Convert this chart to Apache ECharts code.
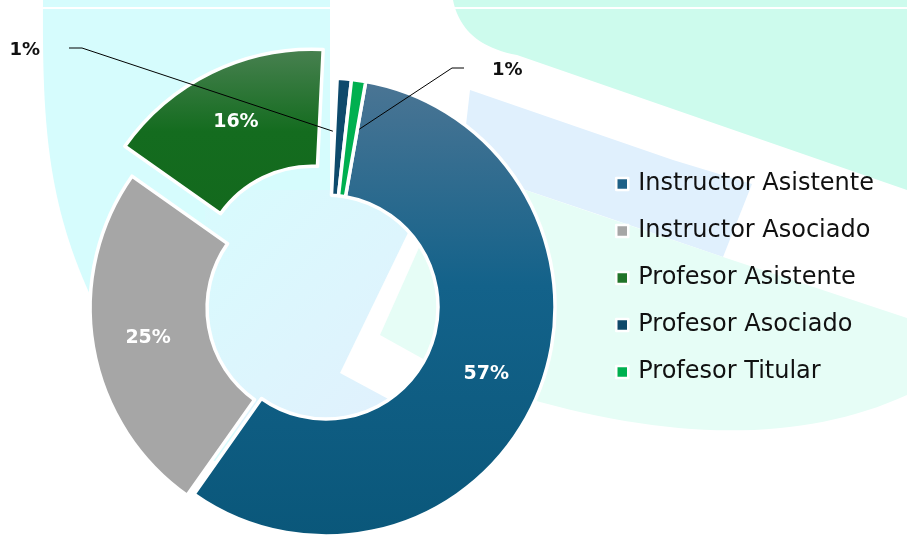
<!DOCTYPE html>
<html>
<head>
<meta charset="utf-8">
<script src="https://cdn.jsdelivr.net/npm/echarts@6/dist/echarts.min.js"></script>
<style>
  html, body { margin: 0; padding: 0; background: #fff; }
  #chart { width: 907px; height: 538px; }
</style>
</head>
<body>
<div id="chart"></div>
<script>
// data
var categories = ['Instructor Asistente', 'Instructor Asociado', 'Profesor Asistente', 'Profesor Asociado', 'Profesor Titular'];
var values = [57, 25, 16, 1, 1];

// look
function vGrad(stops, x2, y2) {
  return { type: 'linear', x: 0, y: 0, x2: x2 || 0, y2: y2 === undefined ? 1 : y2,
    colorStops: stops.map(function (s) { return { offset: s[0], color: s[1] }; }) };
}
var fills = [
  vGrad([[0, '#4b7594'], [0.45, '#13628a'], [1, '#0a577a']]),
  '#a6a6a6',
  vGrad([[0, '#498151'], [0.5, '#146c1f'], [1, '#13691d']]),
  '#0f4a6c',
  '#00b050'
];
var legendColors = ['#1f6187', '#a6a6a6', '#217429', '#10486a', '#00b050'];
// each slice sits in a layer: [layer name, px it is pulled out]
var layers = { ring: 0, gray: 7, green: 32, slivers: 0 };
var sliceLayer = ['ring', 'gray', 'green', 'slivers', 'slivers'];
var pieCenter = [326, 307];
var pieRadius = [112, 229];
var leadR = 174;                          // leader lines point into the ring
var font = 'DejaVu Sans';

// the two tiny slices get outside labels with leader lines
var sliverLabels = {
  3: { x: 40, y: 50, align: 'right', elbow: [82, 48], end: [69, 48] },
  4: { x: 492, y: 70, align: 'left', elbow: [452, 68], end: [464, 68] }
};

function labelFor(i) {
  if (sliverLabels[i]) {
    return { show: true, position: 'outside', formatter: '{c}%', color: '#111',
      fontFamily: font, fontWeight: 'bold', fontSize: 18 };
  }
  return { show: true, position: 'inside', formatter: '{c}%', color: '#fff',
    fontFamily: font, fontWeight: 'bold', fontSize: 19 };
}

function buildSeries(layer, idx) {
  var offset = layers[layer];
  return {
    type: 'pie',
    silent: true,
    center: pieCenter,
    radius: pieRadius,
    startAngle: 80,
    clockwise: true,
    selectedMode: 'multiple',
    selectedOffset: offset,
    avoidLabelOverlap: false,
    z: 2 + idx,
    data: categories.map(function (name, i) {
      var mine = sliceLayer[i] === layer;
      return {
        name: name,
        value: values[i],
        selected: mine && offset > 0,
        itemStyle: mine
          ? { color: fills[i], borderColor: '#fff', borderWidth: 3.5 }
          : { color: 'rgba(0,0,0,0)', borderColor: 'rgba(0,0,0,0)', borderWidth: 0 },
        label: mine ? labelFor(i) : { show: false },
        labelLine: { show: mine && !!sliverLabels[i], lineStyle: { color: '#000', width: 1 } }
      };
    }),
    labelLayout: function (p) {
      var cfg = sliverLabels[p.dataIndex];
      if (!cfg || !p.labelLinePoints) return;
      var p0 = p.labelLinePoints[0];
      var dx = p0[0] - pieCenter[0], dy = p0[1] - pieCenter[1];
      var len = Math.sqrt(dx * dx + dy * dy);
      var start = [pieCenter[0] + dx / len * leadR, pieCenter[1] + dy / len * leadR];
      return {
        x: cfg.x, y: cfg.y, align: cfg.align, verticalAlign: 'middle',
        labelLinePoints: [start, cfg.elbow, cfg.end]
      };
    }
  };
}

// helpers for the curved background shapes
function quad(p0, c, p1, n) {
  var pts = [];
  for (var k = 0; k <= n; k++) {
    var t = k / n, u = 1 - t;
    pts.push([u * u * p0[0] + 2 * u * t * c[0] + t * t * p1[0],
              u * u * p0[1] + 2 * u * t * c[1] + t * t * p1[1]]);
  }
  return pts;
}
function cubic(p0, c1, c2, p1, n) {
  var pts = [];
  for (var k = 0; k <= n; k++) {
    var t = k / n, u = 1 - t;
    var a = u * u * u, b = 3 * u * u * t, c = 3 * u * t * t, d = t * t * t;
    pts.push([a * p0[0] + b * c1[0] + c * c2[0] + d * p1[0],
              a * p0[1] + b * c1[1] + c * c2[1] + d * p1[1]]);
  }
  return pts;
}

// slide background shapes
var cyanEdge = cubic([43, 0], [42, 160], [50, 250], [150, 400], 40).reverse();
var bg = [
  { type: 'polygon', shape: { points: [[43, 0], [330, 0], [330, 470], [200, 460]].concat(cyanEdge) },
    style: { fill: '#d6fcfd' } },
  { type: 'polygon', shape: { points: quad([453, 0], [462, 45], [517, 55], 20).concat([[907, 190], [907, 0]]) },
    style: { fill: '#cdfbed' } },
  { type: 'polygon', shape: { points: [[470, 90], [673, 160], [752, 184], [723, 257], [600, 215], [466, 170], [466, 125]] },
    style: { fill: '#e0f0fd' } },
  { type: 'polygon', shape: { points: [[466, 170], [723, 257], [907, 318]].concat(quad([907, 395], [760, 462], [540, 402], 30)).concat([[466, 380]]) },
    style: { fill: '#e6fdf6' } },
  { type: 'rect', shape: { x: 205, y: 190, width: 245, height: 240 },
    style: { fill: vGrad([[0, '#d8fbfd'], [1, '#e2effd']], 1, 1) } },
  { type: 'polygon', shape: { points: [[340, 373], [420, 208], [470, 208], [470, 443]] },
    style: { fill: '#ffffff' } },
  { type: 'polygon', shape: { points: [[380, 335], [430, 223], [470, 223], [470, 385]] },
    style: { fill: '#e6fdf6' } },
  { type: 'rect', shape: { x: 0, y: 7, width: 907, height: 2 }, style: { fill: '#ffffff' } }
];
bg.forEach(function (el) { el.silent = true; el.z = 0; });

var chart = echarts.init(document.getElementById('chart'), null, { renderer: 'canvas' });
chart.setOption({
  animation: false,
  backgroundColor: '#ffffff',
  graphic: { elements: bg },
  legend: {
    orient: 'vertical',
    left: 610,
    top: 165,
    itemWidth: 12,
    itemHeight: 12,
    itemGap: 19,
    icon: 'rect',
    selectedMode: false,
    itemStyle: { borderColor: '#fff', borderWidth: 2.5 },
    textStyle: { fontFamily: font, fontSize: 24, color: '#111', lineHeight: 28, padding: [0, 0, 0, 5] },
    data: categories.map(function (name, i) {
      return { name: name, itemStyle: { color: legendColors[i] } };
    })
  },
  series: Object.keys(layers).map(buildSeries)
});
</script>
</body>
</html>
